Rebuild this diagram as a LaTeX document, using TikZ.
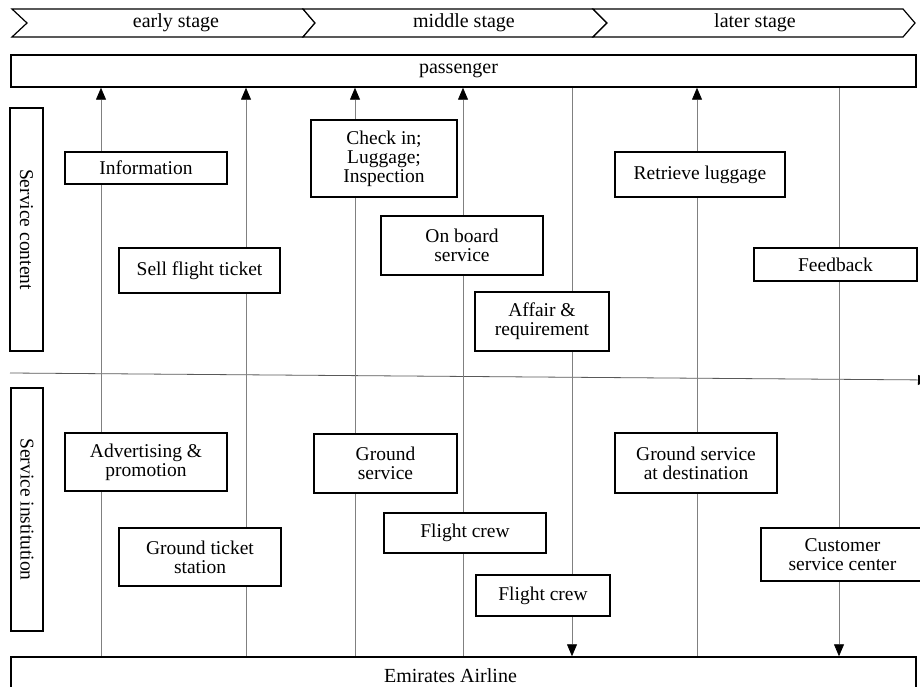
\documentclass[tikz,border=0pt]{standalone}
\usepackage{fontspec}
\setmainfont{Liberation Serif}
\usetikzlibrary{arrows.meta,backgrounds}
\begin{document}
\begin{tikzpicture}[x=1pt,y=-1pt,
  txt/.style={font=\fontsize{20}{19}\selectfont,inner sep=0pt},
  box/.style={draw=black,line width=1.5pt,fill=white,align=center,inner sep=0pt,font=\fontsize{19.5}{19}\selectfont},
  chev/.style={draw=black,line width=1.2pt,fill=white},
  vline/.style={draw=gray,line width=0.8pt},
  tipup/.style={-{Triangle[width=10pt,length=12pt,black]}},
]
\clip (0,0) rectangle (920,687);
\useasboundingbox (0,0) rectangle (920,687);

% stage chevrons
\draw[chev] (12,9) -- (303,9) -- (315,23) -- (303,37) -- (12,37) -- (27,23) -- cycle;
\draw[chev] (303,9) -- (593,9) -- (607,23) -- (593,37) -- (303,37) -- (315,23) -- cycle;
\draw[chev] (593,9) -- (903,9) -- (915,23) -- (903,37) -- (593,37) -- (607,23) -- cycle;
\node[txt] (s1) at (176,23) {early stage};
\node[txt] (s2) at (464,23) {middle stage};
\node[txt] (s3) at (755,23) {later stage};

% passenger and airline bars
\node[box,font=\fontsize{20}{19}\selectfont,minimum width=905pt,minimum height=32pt] (pas) at (463.5,71) {passenger\hspace*{10pt}};
\node[box,font=\fontsize{20}{19}\selectfont,minimum width=905pt,minimum height=38pt] (em) at (463.5,676) {Emirates Airline\hspace*{26pt}};

% side labels
\node[box,rotate=-90,minimum width=243pt,minimum height=33pt] (sc) at (26.5,229.5) {Service content};
\node[box,rotate=-90,minimum width=243pt,minimum height=32pt] (si) at (27,509.5) {Service institution};

% lane coordinates
\coordinate (c1) at (101,0);
\coordinate (c2) at (246,0);
\coordinate (c3) at (355,0);
\coordinate (c4) at (463,0);
\coordinate (c5) at (572,0);
\coordinate (c6) at (697,0);
\coordinate (c7) at (839,0);
\coordinate (dl) at (10,373);
\coordinate (dr) at (930,380);

% content boxes
\node[box,minimum width=162pt,minimum height=32pt] (info) at (146,168) {Information};
\node[box,minimum width=161pt,minimum height=45pt] (sell) at (199.5,270.5) {Sell flight ticket};
\node[box,minimum width=146pt,minimum height=77pt] (check) at (384,158.5) {Check in;\\Luggage;\\Inspection};
\node[box,minimum width=162pt,minimum height=59pt] (board) at (462,245.5) {On board\\service};
\node[box,minimum width=134pt,minimum height=59pt] (affair) at (542,321.5) {Affair \&\\requirement};
\node[box,minimum width=170pt,minimum height=45pt] (retr) at (700,174.5) {Retrieve luggage};
\node[box,minimum width=163pt,minimum height=33pt] (feed) at (835.5,264.5) {Feedback};

% institution boxes
\node[box,minimum width=162pt,minimum height=58pt] (adv) at (146,462) {Advertising \&\\promotion};
\node[box,minimum width=143pt,minimum height=59pt] (gserv) at (385.5,463.5) {Ground\\service};
\node[box,minimum width=162pt,minimum height=58pt] (gtick) at (200,557) {Ground ticket\\station};
\node[box,minimum width=162pt,minimum height=40pt] (crew1) at (465,533) {Flight crew};
\node[box,minimum width=134pt,minimum height=41pt] (crew2) at (543,595.5) {Flight crew};
\node[box,minimum width=162pt,minimum height=60pt] (gdest) at (696,463) {Ground service\\at destination};
\node[box,minimum width=163pt,minimum height=53pt] (cust) at (842.5,554.5) {Customer\\service center};

\begin{scope}[on background layer]
\draw[line width=0.8pt,draw=gray!70!black,-{Triangle[width=10pt,length=12pt,black]}] (dl) -- (dr);
\draw[vline,tipup] (em.north -| c1) -- (pas.south -| c1);
\draw[vline,tipup] (em.north -| c2) -- (pas.south -| c2);
\draw[vline,tipup] (em.north -| c3) -- (pas.south -| c3);
\draw[vline,tipup] (em.north -| c4) -- (pas.south -| c4);
\draw[vline,tipup] (pas.south -| c5) -- (em.north -| c5);
\draw[vline,tipup] (em.north -| c6) -- (pas.south -| c6);
\draw[vline,tipup] (pas.south -| c7) -- (em.north -| c7);
\end{scope}
\end{tikzpicture}
\end{document}
